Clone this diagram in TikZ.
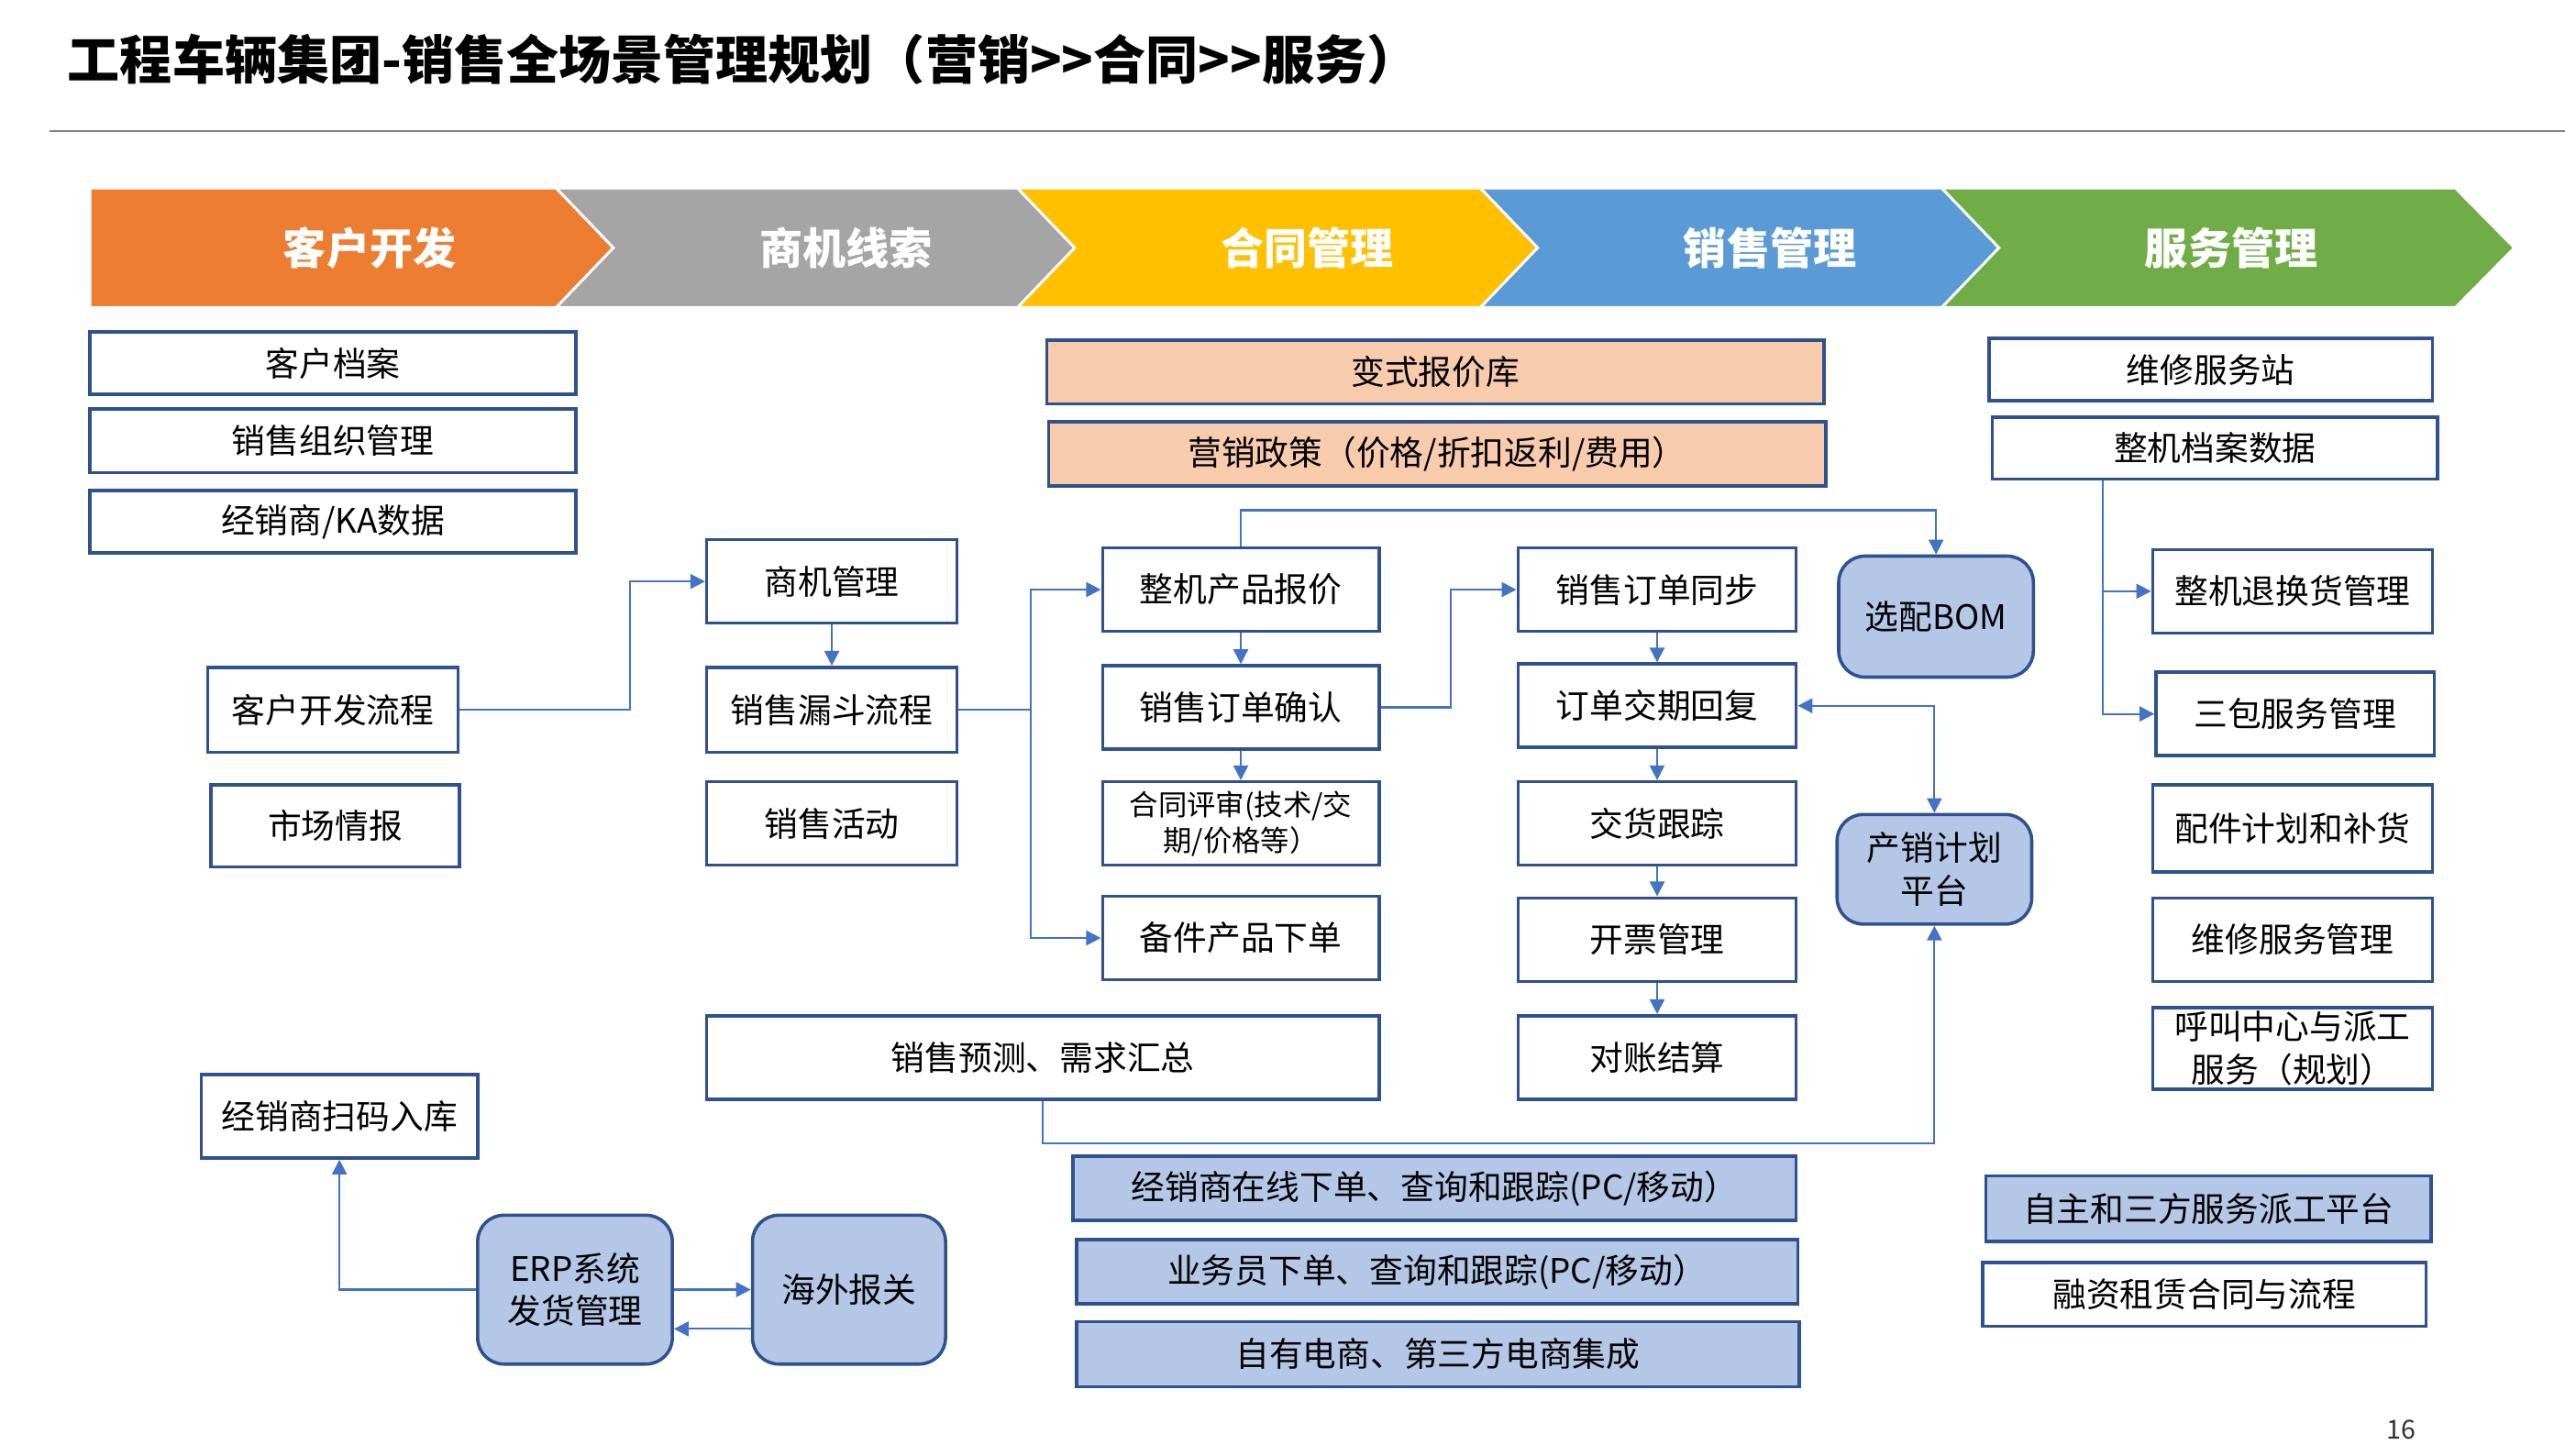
\documentclass[tikz,border=0pt]{standalone}
\usepackage{fontspec}
\setmainfont{Noto Sans CJK SC}
\usetikzlibrary{arrows.meta,calc}
\definecolor{bord}{RGB}{47,82,143}
\definecolor{lnc}{RGB}{68,114,196}
\definecolor{peach}{RGB}{248,203,173}
\definecolor{lblue}{RGB}{180,199,231}
\definecolor{corange}{RGB}{237,125,49}
\definecolor{cgray}{RGB}{165,165,165}
\definecolor{cyellow}{RGB}{255,192,0}
\definecolor{cblue}{RGB}{91,155,213}
\definecolor{cgreen}{RGB}{112,173,71}
\newcommand\mybox[7]{\node[#1, minimum width=#5*0.5pt, minimum height=#6*0.5pt] (#2) at (#3,#4) {#7};}
\begin{document}
\begin{tikzpicture}[x=0.5pt,y=-0.5pt,
  box/.style={draw=bord, line width=1pt, fill=white, inner sep=0pt, align=center, text=black, font=\fontsize{10.3}{13}\selectfont},
  pbox/.style={box, fill=peach},
  bbox/.style={box, fill=lblue},
  rbox/.style={box, fill=lblue, rounded corners=8pt},
  smallbox/.style={box, font=\fontsize{8.8}{11}\selectfont},
  hdr/.style={text=white, font=\fontsize{13.2}{16}\selectfont\bfseries},
  band/.style={draw=white, line width=0.8pt},
  arr/.style={draw=lnc, line width=0.6pt, -{Triangle[length=4.5pt,width=4.5pt]}},
  arrboth/.style={draw=lnc, line width=0.6pt, {Triangle[length=4.5pt,width=4.5pt]}-{Triangle[length=4.5pt,width=4.5pt]}},
  ln/.style={draw=lnc, line width=0.6pt}
]
\useasboundingbox (0,0) rectangle (1568,890);
\fill[white] (0,0) rectangle (1568,890);

% title
\node[anchor=west, inner sep=0pt, font=\fontsize{16}{20}\selectfont\bfseries] (title) at (41,36) {工程车辆集团-销售全场景管理规划（营销>{}>合同>{}>服务）};
\draw[black!50, line width=0.6pt] (30,80) -- (1568,80);

% header band
\filldraw[band, fill=corange] (55,115) -- (340,115) -- (375,151.5) -- (340,188) -- (55,188) -- cycle;
\filldraw[band, fill=cgray] (340,115) -- (622,115) -- (657,151.5) -- (622,188) -- (340,188) -- (375,151.5) -- cycle;
\filldraw[band, fill=cyellow] (622,115) -- (905,115) -- (940,151.5) -- (905,188) -- (622,188) -- (657,151.5) -- cycle;
\filldraw[band, fill=cblue] (905,115) -- (1187,115) -- (1222,151.5) -- (1187,188) -- (905,188) -- (940,151.5) -- cycle;
\filldraw[band, fill=cgreen] (1187,115) -- (1501,115) -- (1537,151.5) -- (1501,188) -- (1187,188) -- (1222,151.5) -- cycle;
\node[hdr] (h1) at (226,151.5) {客户开发};
\node[hdr] (h2) at (517,151.5) {商机线索};
\node[hdr] (h3) at (799,151.5) {合同管理};
\node[hdr] (h4) at (1082,151.5) {销售管理};
\node[hdr] (h5) at (1364,151.5) {服务管理};

% left column
\mybox{box}{khda}{203.5}{222}{297}{38}{客户档案}
\mybox{box}{xszz}{203.5}{269.5}{297}{39}{销售组织管理}
\mybox{box}{jxs}{203.5}{319}{297}{38}{经销商/KA数据}
\mybox{box}{kfl}{203.5}{434}{153}{52}{客户开发流程}
\mybox{box}{scqb}{205}{505}{152}{50}{市场情报}
\mybox{box}{smrk}{207.5}{682.5}{169}{51}{经销商扫码入库}
\mybox{rbox}{erp}{351.5}{788.5}{119}{91}{ERP系统\\发货管理}
\mybox{rbox}{hwbg}{519}{788.5}{118}{91}{海外报关}

% column 2
\mybox{box}{sjgl}{508.5}{355.5}{153}{51}{商机管理}
\mybox{box}{lds}{508.5}{434}{153}{52}{销售漏斗流程}
\mybox{box}{xshd}{508.5}{503.5}{153}{51}{销售活动}
\mybox{box}{yc}{637.5}{646.5}{411}{51}{销售预测、需求汇总}

% column 3
\mybox{pbox}{bsbj}{877.5}{227.5}{475}{39}{变式报价库}
\mybox{pbox}{yxzc}{878.5}{277.5}{475}{39}{营销政策（价格/折扣返利/费用）}
\mybox{box}{zjbj}{758.5}{360.5}{169}{51}{整机产品报价}
\mybox{box}{xsqr}{758.5}{432.5}{169}{51}{销售订单确认}
\mybox{smallbox}{htps}{758.5}{503.5}{169}{51}{合同评审(技术/交\\期/价格等）}
\mybox{box}{bjxd}{758.5}{573.5}{169}{51}{备件产品下单}

% column 4
\mybox{box}{xstb}{1013}{360.5}{170}{51}{销售订单同步}
\mybox{box}{ddjq}{1013}{431.5}{170}{51}{订单交期回复}
\mybox{box}{jhgz}{1013}{503.5}{170}{51}{交货跟踪}
\mybox{box}{kpgl}{1013}{574.5}{170}{51}{开票管理}
\mybox{box}{dzjs}{1013}{646.5}{170}{51}{对账结算}
\mybox{rbox}{bom}{1183.5}{377}{119}{74}{选配BOM}
\mybox{rbox}{cxjh}{1182.5}{531.5}{119}{67}{产销计划\\平台}

% bottom blue
\mybox{bbox}{zxxd}{877}{726.5}{442}{39}{经销商在线下单、查询和跟踪(PC/移动）}
\mybox{bbox}{ywy}{878.5}{777.5}{441}{39}{业务员下单、查询和跟踪(PC/移动）}
\mybox{bbox}{ds}{879}{828}{442}{40}{自有电商、第三方电商集成}

% right column
\mybox{box}{wxz}{1351.5}{226}{271}{38}{维修服务站}
\mybox{box}{zjda}{1354}{274}{272}{38}{整机档案数据}
\mybox{box}{thh}{1401.5}{361.5}{171}{51}{整机退换货管理}
\mybox{box}{sbfw}{1403}{436.5}{170}{51}{三包服务管理}
\mybox{box}{pjjh}{1401.5}{506.5}{171}{53}{配件计划和补货}
\mybox{box}{wxgl}{1401.5}{574.5}{171}{51}{维修服务管理}
\mybox{box}{hjzx}{1401.5}{641}{171}{50}{呼叫中心与派工\\服务（规划）}
\mybox{bbox}{pgpt}{1350}{739}{272}{40}{自主和三方服务派工平台}
\mybox{box}{rzzl}{1347.5}{791.5}{271}{39}{融资租赁合同与流程}

\node[font=\fontsize{8}{10}\selectfont, text=black!80] (pg) at (1468,874) {16};

% connectors
\draw[arr] (kfl.east) -- ++(104,0) |- (sjgl.west);
\draw[arr] (sjgl.south) -- (lds.north);
\draw[ln] (lds.east) -- ++(44,0) coordinate (j1);
\draw[arr] (j1) |- (zjbj.west);
\draw[arr] (j1) |- (bjxd.west);
\draw[arr] (zjbj.south) -- (xsqr.north);
\draw[arr] (xsqr.south) -- (htps.north);
\draw[arr] (xsqr.east) -- ++(43,0) |- (xstb.west);
\draw[arr] (zjbj.north) -- ++(0,-22) -| (bom.north);
\draw[arr] (xstb.south) -- (ddjq.north);
\draw[arr] (ddjq.south) -- (jhgz.north);
\draw[arr] (jhgz.south) -- (kpgl.north);
\draw[arr] (kpgl.south) -- (dzjs.north);
\draw[arrboth] (ddjq.east) -| (cxjh.north);
\draw[arr] (yc.south) -- ++(0,26) -| (cxjh.south);
\coordinate (j2) at ($(zjda.south west)!0.25!(zjda.south east)$);
\draw[arr] (j2) |- (thh.west);
\draw[arr] (j2) |- (sbfw.west);
\draw[arr] (erp.west) -| (smrk.south);
\draw[arr] (erp.east) -- (hwbg.west);
\draw[arr] ([yshift=-12pt]hwbg.west) -- ([yshift=-12pt]erp.east);
\end{tikzpicture}
\end{document}
